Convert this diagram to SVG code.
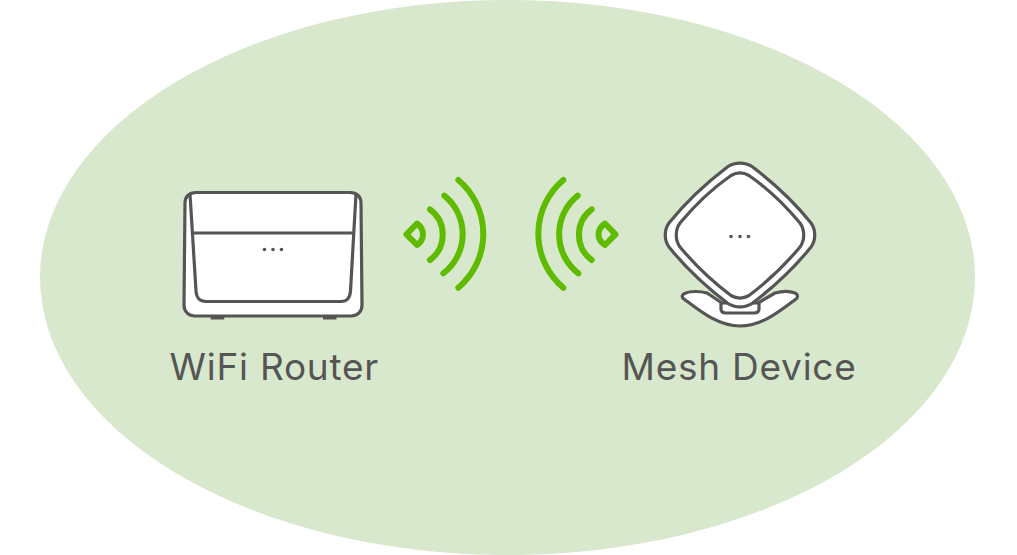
<svg xmlns="http://www.w3.org/2000/svg" width="1017" height="555" viewBox="0 0 1017 555">
<style>
.dev{fill:#fff;stroke:#555;stroke-width:3.2;stroke-linejoin:round;stroke-linecap:round}
.line{fill:none;stroke:#555;stroke-width:3.2;stroke-linecap:round;stroke-linejoin:round}
.dot{fill:#555}
.sig{fill:none;stroke:#5fbb00;stroke-width:6;stroke-linecap:round;stroke-linejoin:round}
.lbl{font-family:"Inter","Liberation Sans",sans-serif;font-size:37px;letter-spacing:.75px;fill:#555}
</style>
<rect width="1017" height="555" fill="#fff"/>
<ellipse cx="507.5" cy="277.5" rx="467.5" ry="277.5" fill="#d8e8cd"/>
<g id="router">
<rect x="210.7" y="315" width="13.5" height="4.5" fill="#555"/>
<rect x="323" y="315" width="13.5" height="4.5" fill="#555"/>
<path class="dev" d="M196,192.500H350C357,192.500 361,197 361,203L362,305C362,312 357,316 351,316H195C189,316 184,312 184,305L185,203C185,197 189,192.500 196,192.500Z"/>
<path class="line" d="M190,194L196,291C196.500,298 199,301.500 206,301.500H341C347,301.500 350,298 350.500,291L356,194"/>
<path class="line" d="M193,233H353.500"/>
<circle class="dot" cx="264.500" cy="249.500" r="1.800"/><circle class="dot" cx="273" cy="249.500" r="1.800"/><circle class="dot" cx="281.500" cy="249.500" r="1.800"/>
</g>
<g id="mesh">
<path class="dev" d="M686,293C690,291 700,291 707,293L722,303H758L775,293C782,291 790,291 795,293C798,294 798,298 796,299C780,311 762,326 740,326C718,326 700,311 684,299C681,297 682,294 686,293Z"/>
<path class="line" d="M721,303V309C721,312 723,313 726,313H754C757,313 759,312 759,309V303"/>
<path class="dev" d="M728,166.500C735,162 745,162 752,166.500C775,184 795,203 811,223C816,230 816,240 811,247C795,267 775,286 752,303.500C745,308 735,308 728,303.500C705,286 685,267 669,247C664,240 664,230 669,223C685,203 705,184 728,166.500Z"/>
<path class="line" d="M731,175.500C737,172 743,172 749,175.500C767,188 785,205 800,223C805,230 805,240 800,247C785,265 767,282 749,295.500C743,299 737,299 731,295.500C713,282 695,265 680,247C675,240 675,230 680,223C695,205 713,188 731,175.500Z"/>
<circle class="dot" cx="731" cy="236.500" r="1.800"/><circle class="dot" cx="740" cy="236.500" r="1.800"/><circle class="dot" cx="748.500" cy="236.500" r="1.800"/>
</g>
<g id="connectors">
<path class="sig" d="M458.300,180A70.500,70.500 0 0 1 458.300,287.700"/>
<path class="sig" d="M444.300,195.700A49.300,49.300 0 0 1 443.300,273.300"/>
<path class="sig" d="M430,209.300A31.600,31.600 0 0 1 430,260"/>
<path class="sig" d="M406.500,234.300L417,223.500Q423,228 423,234.300Q423,241 417,245Z"/>
<path class="sig" d="M563.300,180A70.500,70.500 0 0 0 563.300,287.700"/>
<path class="sig" d="M577.700,195.700A49.300,49.300 0 0 0 578.300,273.300"/>
<path class="sig" d="M591.700,209.300A31.600,31.600 0 0 0 591.700,260"/>
<path class="sig" d="M615.500,234.300L605,223.500Q598.500,228 598.500,234.300Q598.500,241 605,245Z"/>
</g>
<text class="lbl" x="169.500" y="380">WiFi Router</text>
<text class="lbl" x="621.500" y="380">Mesh Device</text>
</svg>
